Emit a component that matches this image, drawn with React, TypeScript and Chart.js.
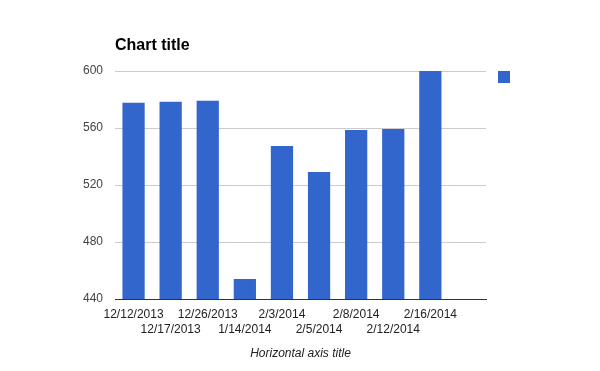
import { useEffect, useRef } from 'react';
import { Chart, registerables } from 'chart.js';

Chart.register(...registerables);

const categories: string[] = ['12/12/2013', '12/17/2013', '12/26/2013', '1/14/2014', '2/3/2014', '2/5/2014', '2/8/2014', '2/12/2014', '2/16/2014', ''];
const values: (number | null)[] = [577.8, 578.5, 579.2, 454, 547.4, 529.1, 558.6, 559.3, 600, null];
const chartTitle = 'Chart title';
const xAxisTitle = 'Horizontal axis title';
const yMin = 440;
const yMax = 600;
const yStep = 40;

const BAR = '#3366cc';
const FAMILY = '"Liberation Sans", Arial, sans-serif';

const decor = {
  id: 'decor',
  afterDraw(chart: any) {
    const { ctx, chartArea } = chart;
    ctx.save();
    ctx.fillStyle = '#000';
    ctx.font = `bold 16px ${FAMILY}`;
    ctx.textAlign = 'left';
    ctx.textBaseline = 'alphabetic';
    ctx.fillText(chartTitle, chartArea.left, 50);

    ctx.fillStyle = BAR;
    ctx.fillRect(chartArea.right + 12, chartArea.top, 12, 12);

    ctx.fillStyle = '#222';
    ctx.font = `italic 12px ${FAMILY}`;
    ctx.textAlign = 'center';
    ctx.fillText(xAxisTitle, (chartArea.left + chartArea.right) / 2, 357);
    ctx.restore();
  },
};

export default function App() {
  const ref = useRef<HTMLCanvasElement>(null);
  useEffect(() => {
    document.body.style.margin = '0';
    const chart = new Chart(ref.current!, {
      type: 'bar',
      data: {
        labels: categories,
        datasets: [
          {
            label: '',
            data: values,
            backgroundColor: BAR,
            barPercentage: 0.6,
            categoryPercentage: 1,
          },
        ],
      },
      options: {
        responsive: false,
        animation: false,
        layout: { padding: { top: 71, right: 114, left: 0, bottom: 0 } },
        plugins: {
          legend: { display: false },
          title: { display: false },
          tooltip: { enabled: false },
        },
        scales: {
          x: {
            grid: { display: false, drawTicks: false },
            border: { display: true, color: '#333' },
            ticks: {
              autoSkip: false,
              maxRotation: 0,
              minRotation: 0,
              padding: 8,
              color: '#222',
              font: { family: FAMILY, size: 12, lineHeight: 1.25 },
              callback: (_v: any, i: number) => (i % 2 === 0 ? categories[i] : ['', categories[i]]),
            },
            afterFit: (s: any) => {
              s.height = 72;
            },
          },
          y: {
            min: yMin,
            max: yMax,
            ticks: {
              stepSize: yStep,
              padding: 12,
              color: '#444',
              font: { family: FAMILY, size: 12 },
            },
            grid: {
              drawTicks: false,
              color: (c: any) => (c.tick && c.tick.value === yMin ? 'rgba(0,0,0,0)' : '#cccccc'),
            },
            border: { display: false },
            afterFit: (s: any) => {
              s.width = 115;
            },
          },
        },
      } as any,
      plugins: [decor],
    });
    return () => chart.destroy();
  }, []);
  return (
    <div style={{ position: 'absolute', left: 0, top: 0, width: 600, height: 371 }}>
      <canvas ref={ref} width={600} height={371} style={{ display: 'block' }} />
    </div>
  );
}
